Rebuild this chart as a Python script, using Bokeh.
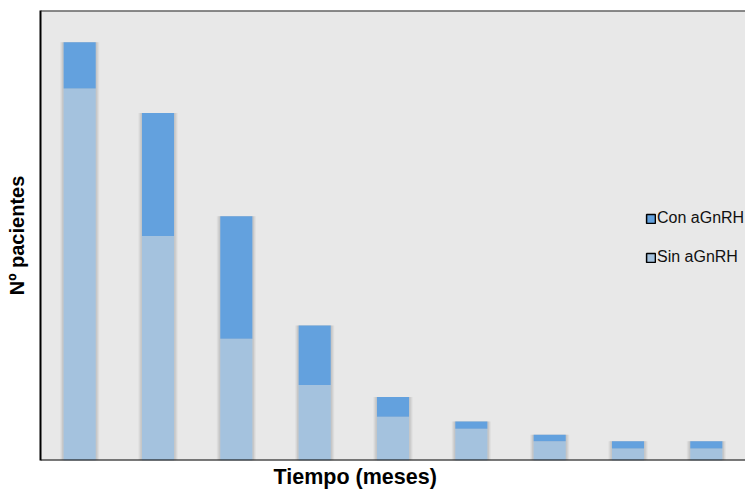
from bokeh.plotting import figure
from bokeh.models import Range1d, Legend, LegendItem, Span, ColumnDataSource, Title
from bokeh.embed import file_html
from bokeh.resources import INLINE

# Patients per time interval (months), split by GnRH-agonist treatment
periodos = ["1", "2", "3", "4", "5", "6", "7", "8", "9"]
sin_agnrh = [62.0, 37.4, 20.3, 12.6, 7.3, 5.3, 3.2, 2.0, 2.0]
con_agnrh = [7.7, 20.5, 20.4, 9.9, 3.3, 1.2, 1.1, 1.2, 1.2]
y_max = 75

COLOR_CON = "#63a1de"
COLOR_SIN = "#a4c2de"
FONT = "Liberation Sans"

total = [s + c for s, c in zip(sin_agnrh, con_agnrh)]
src = ColumnDataSource(dict(periodo=periodos, sin=sin_agnrh, con=con_agnrh, total=total))

p = figure(width=745, height=491, x_range=periodos, y_range=Range1d(0, y_max),
           output_backend="svg", toolbar_location=None,
           min_border_left=40, min_border_right=0, min_border_top=10, min_border_bottom=30)
p.x_range.range_padding = 0
p.background_fill_color = "#e8e8e8"
p.border_fill_color = "white"
p.outline_line_color = None
p.grid.visible = False

p.xaxis.visible = False
ax = p.yaxis
ax.axis_line_color = "black"
ax.axis_line_width = 2
ax.major_tick_line_color = None
ax.minor_tick_line_color = None
ax.major_label_text_font_size = "0px"
ax.major_label_standoff = 0
ax.axis_label = "Nº pacientes"
ax.axis_label_text_font = FONT
ax.axis_label_text_font_style = "bold"
ax.axis_label_text_font_size = "20px"
ax.axis_label_text_color = "black"
ax.axis_label_standoff = 7

p.add_layout(Title(text="Tiempo (meses)", align="left", offset=233, standoff=5,
                   text_font=FONT, text_font_style="bold", text_font_size="21.5px",
                   text_color="black"), "below")

# frame lines: baseline and top edge
p.add_layout(Span(location=0, dimension="width", line_color="black", line_width=2))
p.add_layout(Span(location=y_max, dimension="width", line_color="#222222", line_width=2))

# soft shadow around each stacked bar
bar_w = 0.41
for extra, alpha in ((7, 0.06), (5, 0.08), (3, 0.10)):
    p.vbar(x="periodo", bottom=0, top="total", width=bar_w + extra / 78.3,
           source=src, fill_color="#555555", fill_alpha=alpha, line_color=None)

p.vbar(x="periodo", bottom=0, top="sin", width=bar_w, source=src,
       fill_color=COLOR_SIN, line_color=None)
p.vbar(x="periodo", bottom="sin", top="total", width=bar_w, source=src,
       fill_color=COLOR_CON, line_color=None)

# legend swatches (hidden renderers, shown only in the legend)
r_con = p.vbar(x="periodo", bottom="sin", top="total", width=bar_w, source=src,
               fill_color=COLOR_CON, line_color="black", line_width=1.5, visible=False)
r_sin = p.vbar(x="periodo", bottom=0, top="sin", width=bar_w, source=src,
               fill_color=COLOR_SIN, line_color="black", line_width=1.5, visible=False)
legend = Legend(items=[LegendItem(label="Con aGnRH", renderers=[r_con]),
                       LegendItem(label="Sin aGnRH", renderers=[r_sin])],
                location=(605, 194), orientation="vertical",
                glyph_width=11, glyph_height=11, label_standoff=1, spacing=21,
                padding=0, margin=0, border_line_color=None,
                background_fill_alpha=0, inactive_fill_alpha=0,
                label_text_font=FONT, label_text_font_size="16px",
                label_text_color="#111111")
p.add_layout(legend)

open("out.html", "w").write(file_html(p, INLINE))
